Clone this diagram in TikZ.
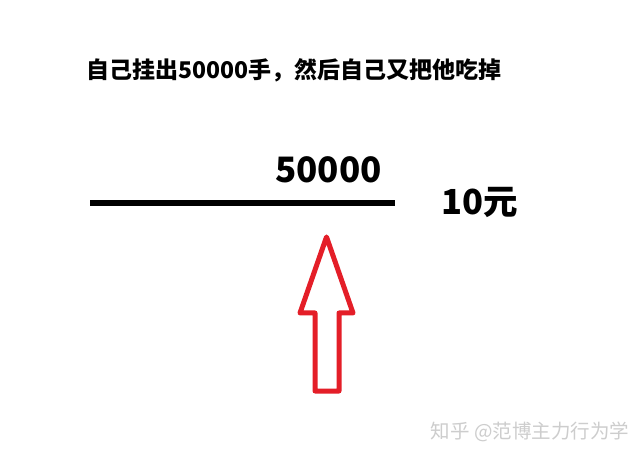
\documentclass[tikz,border=0pt]{standalone}
\usepackage{fontspec}
\usepackage{xcolor}
\usepackage{tikz}
\newfontfamily\cjk{Noto Sans CJK SC}
\definecolor{arrowred}{RGB}{228, 30, 40}
\definecolor{markgray}{RGB}{205, 205, 205}

\begin{document}
\begin{tikzpicture}[
			x=1pt, y=1pt,
			label/.style={
				inner sep=0pt,
				font=\cjk\bfseries,
				text=black
			}
			]
			
			\useasboundingbox[fill=white] (0,0) rectangle (644,460);
			
			\node[label, font=\cjk\bfseries\fontsize{23}{27}\selectfont] (title) at (294,390)
			{自己挂出50000手，然后自己又把他吃掉};
			
			\node[label, font=\cjk\bfseries\fontsize{35}{40}\selectfont] (qty) at (328.5,290) {50000};
			
			\node[label, font=\cjk\bfseries\fontsize{34.5}{40}\selectfont] (price) at (479.5,257.5) {10元};
			
			\node[inner sep=0pt, text=markgray, font=\cjk\fontsize{19.5}{23}\selectfont] (mark) at (530,28)
			{知乎 @范博主力行为学};
			
			\coordinate (lineL) at (90,256.5);
			\coordinate (lineR) at (395,256.5);
			\draw[line width=6pt, black] (lineL) -- (lineR);
			
			\draw[line width=5pt, arrowred, line join=round]
			(326.5,223) -- (353,147) -- (339,147) -- (339,69) -- (315,69) -- (315,147) -- (300,147) -- cycle;
			
		\end{tikzpicture}
\end{document}
